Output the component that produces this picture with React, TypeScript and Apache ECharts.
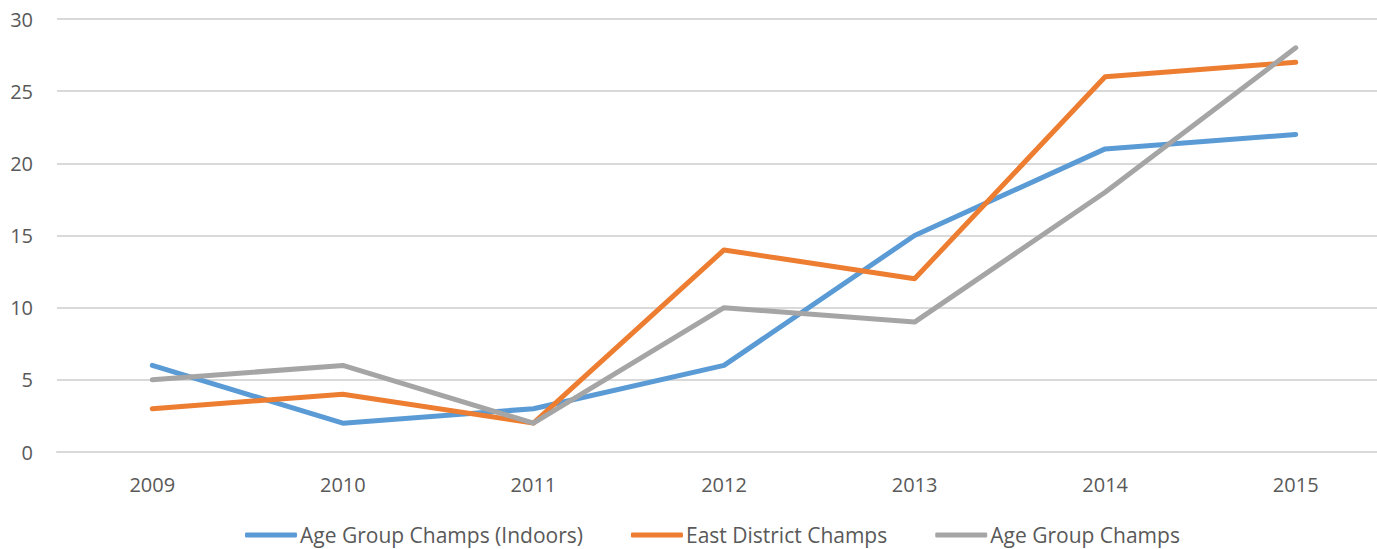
import React, { useEffect, useRef } from "react";
import * as echarts from "echarts";

const years = ["2009", "2010", "2011", "2012", "2013", "2014", "2015"];
const ageGroupIndoors = [6, 2, 3, 6, 15, 21, 22];
const eastDistrict = [3, 4, 2, 14, 12, 26, 27];
const ageGroup = [5, 6, 2, 10, 9, 18, 28];

const FONT = "Open Sans";

export default function App() {
  const ref = useRef<HTMLDivElement>(null);
  useEffect(() => {
    const chart = echarts.init(ref.current!, null, { renderer: "svg" });
    const mk = (name: string, data: number[], color: string) => ({
      name,
      type: "line",
      data,
      symbol: "none",
      lineStyle: { width: 5, color, cap: "round", join: "round" },
      itemStyle: { color },
    });
    chart.setOption({
      animation: false,
      textStyle: { fontFamily: FONT },
      grid: { left: 57, width: 1334, top: 19, bottom: 97, outerBoundsMode: "none", containLabel: false },
      legend: {
        top: 518,
        left: 240,
        itemWidth: 52,
        itemHeight: 5,
        itemGap: 48,
        icon: "roundRect",
        textStyle: { fontSize: 21, lineHeight: 24, color: "#595959", fontFamily: FONT, padding: [0, 0, 0, -2] },
        data: ["Age Group Champs (Indoors)", "East District Champs", "Age Group Champs"],
      },
      xAxis: {
        type: "category",
        data: years,
        boundaryGap: true,
        axisLine: { show: true, lineStyle: { color: "#d9d9d9", width: 2 } },
        axisTick: { show: false },
        axisLabel: { color: "#595959", fontSize: 20, margin: 22, fontFamily: FONT },
      },
      yAxis: {
        type: "value",
        min: 0,
        max: 30,
        interval: 5,
        axisLine: { show: false },
        axisTick: { show: false },
        axisLabel: { color: "#595959", fontSize: 20, margin: 24, fontFamily: FONT },
        splitLine: { lineStyle: { color: "#d9d9d9", width: 2 } },
      },
      series: [
        mk("Age Group Champs (Indoors)", ageGroupIndoors, "#5B9BD5"),
        mk("East District Champs", eastDistrict, "#ED7D31"),
        mk("Age Group Champs", ageGroup, "#A5A5A5"),
      ],
    });
    return () => chart.dispose();
  }, []);
  return (
    <div
      ref={ref}
      style={{ position: "fixed", left: 0, top: 0, width: 1377, height: 549, background: "#fff" }}
    />
  );
}
